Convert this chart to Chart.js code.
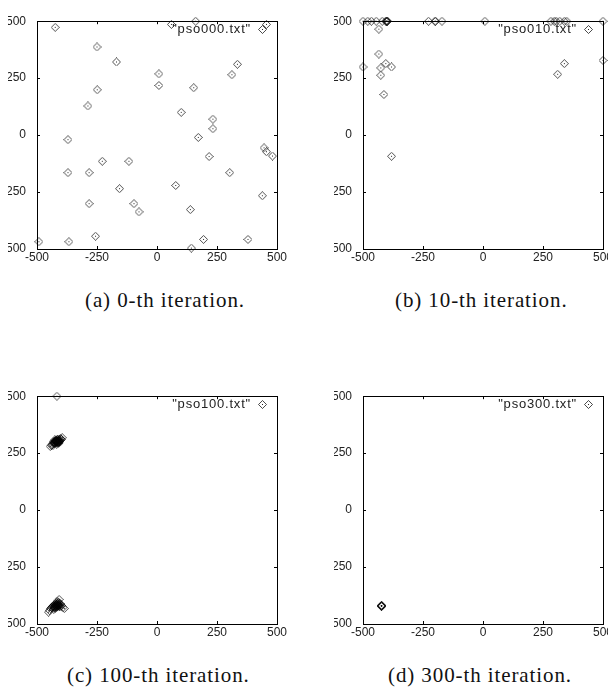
<!DOCTYPE html>
<html>
<head>
<meta charset="utf-8">
<script src="https://cdn.jsdelivr.net/npm/chart.js@4.4.0/dist/chart.umd.min.js"></script>
<style>
    html, body { margin: 0; padding: 0; background: #fff; width: 608px; height: 696px; overflow: hidden; position: relative; }
    .clip { position: absolute; overflow: hidden; width: 289px; height: 270px; }
    .clip canvas { position: absolute; left: -11px; top: 0; }
    .caption { position: absolute; font-family: "Liberation Serif", "Times New Roman", serif; font-size: 21px; letter-spacing: 0.9px; line-height: 20px; color: #111; white-space: pre; }
</style>
</head>
<body>
<div class="clip" style="left:8px;top:3px"><canvas id="chart-a" width="300" height="270"></canvas></div>
<div class="clip" style="left:334px;top:3px"><canvas id="chart-b" width="300" height="270"></canvas></div>
<div class="clip" style="left:8px;top:378px"><canvas id="chart-c" width="300" height="270"></canvas></div>
<div class="clip" style="left:334px;top:378px"><canvas id="chart-d" width="300" height="270"></canvas></div>
<div class="caption" id="cap-a" style="left:85px;top:290px"></div>
<div class="caption" id="cap-b" style="left:395px;top:290px"></div>
<div class="caption" id="cap-c" style="left:67px;top:665px"></div>
<div class="caption" id="cap-d" style="left:388px;top:665px"></div>
<script>
// Axis ticks shared by all four panels
const axisTicks = [-500, -250, 0, 250, 500];

// Data file names shown in each key, and the captions under the panels
const fileNames = ['"pso000.txt"', '"pso010.txt"', '"pso100.txt"', '"pso300.txt"'];
const captions = ['(a) 0-th iteration.', '(b) 10-th iteration.', '(c) 100-th iteration.', '(d) 300-th iteration.'];

// Particle positions [x, y] at iteration 0
const pso000 = [
    [-424, 473], [-250, 387], [-169, 321], [8, 269], [8, 218], [-249, 199], [153, 208],
    [312, 265], [335, 311], [-288, 128], [101, 100], [233, 70], [233, 28], [-371, -20],
    [172, -10], [446, -56], [456, -73], [481, -92], [-228, -115], [-117, -115], [217, -94],
    [-371, -165], [-283, -165], [303, -165], [78, -221], [-156, -235], [439, -266],
    [-283, -301], [-96, -301], [-75, -337], [139, -327], [-256, -444], [-492, -468],
    [-367, -468], [194, -458], [379, -458], [143, -496], [60, 486], [161, 500], [456, 486]
];

// Iteration 10
const pso010 = [
    [-500, 500], [-480, 500], [-465, 500], [-445, 500], [-420, 500], [-405, 500], [-402, 500],
    [-400, 500], [-398, 500], [-401, 500], [-227, 500], [-200, 500], [-198, 500], [-171, 500],
    [8, 500], [283, 500], [297, 500], [305, 500], [320, 500], [339, 500], [349, 500], [500, 500],
    [-434, 465], [-434, 356], [-500, 299], [-426, 295], [-405, 314], [-381, 299], [-426, 263],
    [-413, 178], [-381, -93], [311, 267], [339, 314], [500, 328]
];

// Iteration 100: two tight clusters plus one stray particle on the top edge
const pso100 = [
    [-417, 500],
    [-445, 280], [-440, 285], [-436, 290], [-432, 295], [-428, 292], [-425, 300], [-422, 305],
    [-420, 298], [-418, 302], [-416, 296], [-414, 308], [-412, 300], [-410, 305], [-408, 312],
    [-405, 300], [-402, 315], [-398, 310], [-395, 318], [-430, 302], [-426, 308], [-418, 290],
    [-412, 292], [-435, 282], [-424, 296], [-421, 301], [-419, 304], [-417, 299], [-415, 303],
    [-413, 297], [-411, 302], [-409, 298], [-407, 306], [-423, 303], [-420, 307], [-416, 311],
    [-428, 297], [-426, 293], [-410, 296], [-404, 308], [-406, 303],
    [-452, -448], [-448, -440], [-444, -432], [-440, -428], [-436, -424], [-432, -420],
    [-428, -416], [-425, -422], [-422, -412], [-420, -418], [-418, -425], [-415, -410],
    [-412, -420], [-410, -405], [-408, -392], [-405, -415], [-402, -425], [-398, -418],
    [-392, -428], [-386, -432], [-430, -435], [-424, -430], [-416, -400], [-426, -426],
    [-423, -418], [-421, -423], [-419, -414], [-417, -420], [-414, -416], [-411, -413],
    [-409, -419], [-406, -422], [-427, -429], [-420, -428], [-413, -424], [-433, -428],
    [-404, -410], [-416, -407], [-429, -422]
];

// Iteration 300: the swarm has converged
const pso300 = [
    [-423, -420], [-422, -421], [-424, -419], [-423, -422], [-421, -420], [-424, -421]
];

const panelData = [pso000, pso010, pso100, pso300];
const canvasIds = ['chart-a', 'chart-b', 'chart-c', 'chart-d'];
const captionIds = ['cap-a', 'cap-b', 'cap-c', 'cap-d'];

const tickFont = { family: '"Liberation Sans", Arial, sans-serif', size: 12 };

// gnuplot-like open diamond with a dot in the middle
function makeDiamond() {
    const c = document.createElement('canvas');
    c.width = 9;
    c.height = 9;
    const g = c.getContext('2d');
    g.strokeStyle = 'rgba(0,0,0,0.7)';
    g.lineWidth = 1;
    g.beginPath();
    g.moveTo(4.5, 0.5);
    g.lineTo(8.5, 4.5);
    g.lineTo(4.5, 8.5);
    g.lineTo(0.5, 4.5);
    g.closePath();
    g.stroke();
    g.fillStyle = 'rgba(0,0,0,0.85)';
    g.fillRect(4, 4, 1, 1);
    return c;
}

const diamond = makeDiamond();

// Box around the plot with small inward ticks on all four sides
const framePlugin = {
    id: 'frame',
    beforeDatasetsDraw(chart) {
        const { ctx, chartArea: a, scales } = chart;
        ctx.save();
        ctx.strokeStyle = '#000';
        ctx.lineWidth = 1;
        ctx.strokeRect(Math.round(a.left) + 0.5, Math.round(a.top) + 0.5, Math.round(a.width), Math.round(a.height));
        ctx.beginPath();
        scales.x.ticks.forEach(t => {
            const px = Math.round(scales.x.getPixelForValue(t.value)) + 0.5;
            ctx.moveTo(px, a.bottom);
            ctx.lineTo(px, a.bottom - 3);
            ctx.moveTo(px, a.top);
            ctx.lineTo(px, a.top + 3);
        });
        scales.y.ticks.forEach(t => {
            const py = Math.round(scales.y.getPixelForValue(t.value)) + 0.5;
            ctx.moveTo(a.left, py);
            ctx.lineTo(a.left + 3, py);
            ctx.moveTo(a.right, py);
            ctx.lineTo(a.right - 3, py);
        });
        ctx.stroke();
        ctx.restore();
    }
};

// Key in the top right corner: file name followed by the marker
const keyPlugin = {
    id: 'key',
    afterDatasetsDraw(chart) {
        const { ctx, chartArea: a } = chart;
        ctx.save();
        ctx.font = '13px "Liberation Sans", Arial, sans-serif';
        ctx.letterSpacing = '0.8px';
        ctx.fillStyle = '#222';
        ctx.textAlign = 'right';
        ctx.textBaseline = 'middle';
        ctx.fillText(chart.data.datasets[0].label, a.right - 26, a.top + 8);
        ctx.drawImage(diamond, Math.round(a.right - 15 - 4.5), Math.round(a.top + 8 - 4.5));
        ctx.restore();
    }
};

function axisOptions(isX) {
    return {
        type: 'linear',
        min: -500,
        max: 500,
        afterBuildTicks: scale => { scale.ticks = axisTicks.map(v => ({ value: v })); },
        afterFit: scale => {
            if (isX) scale.height = 20;
            else scale.width = 40;
        },
        grid: { display: false, drawTicks: false },
        border: { display: false },
        ticks: {
            font: tickFont,
            color: '#222',
            padding: isX ? 1 : 11,
            maxRotation: 0,
            autoSkip: false
        }
    };
}

function createPanel(i) {
    const ctx = document.getElementById(canvasIds[i]).getContext('2d');
    new Chart(ctx, {
        type: 'scatter',
        data: {
            datasets: [{
                label: fileNames[i],
                data: panelData[i].map(p => ({ x: p[0], y: p[1] })),
                pointStyle: diamond,
                pointRadius: 4.5,
                clip: false
            }]
        },
        options: {
            responsive: false,
            animation: false,
            devicePixelRatio: 1,
            layout: { padding: { left: 0, right: 20, top: 10, bottom: 4 } },
            plugins: {
                legend: { display: false },
                tooltip: { enabled: false }
            },
            scales: {
                x: axisOptions(true),
                y: axisOptions(false)
            }
        },
        plugins: [framePlugin, keyPlugin]
    });
    document.getElementById(captionIds[i]).textContent = captions[i];
}

document.addEventListener('DOMContentLoaded', function() {
    for (let i = 0; i < 4; i++) {
        createPanel(i);
    }
});
</script>
</body>
</html>
